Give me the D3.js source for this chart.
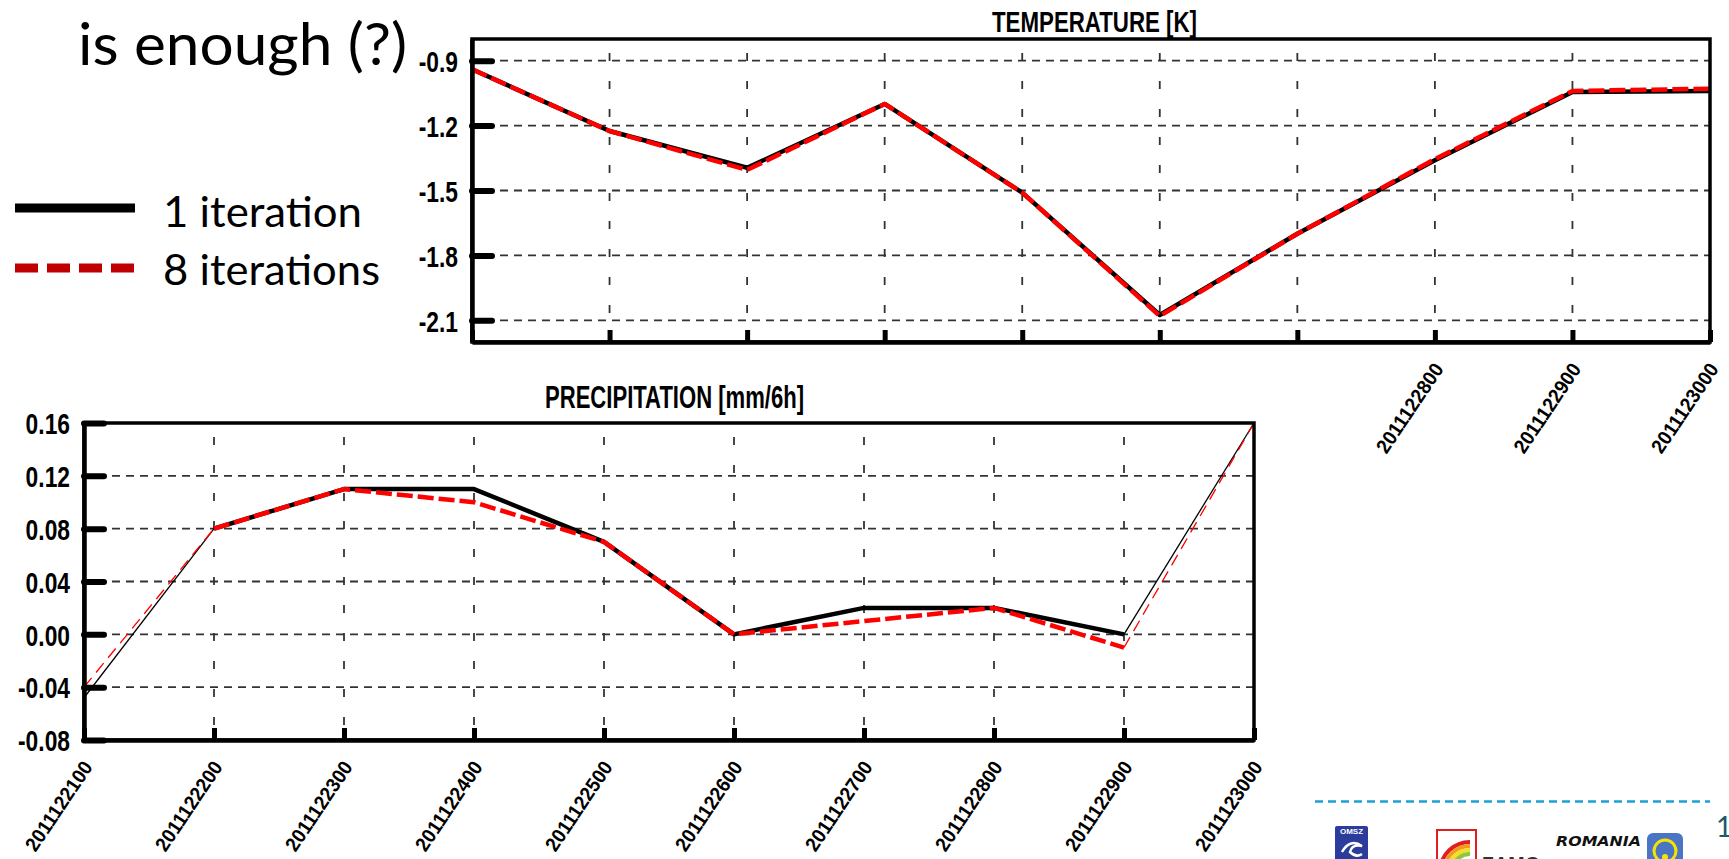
<!DOCTYPE html>
<html><head><meta charset="utf-8">
<script src="https://cdn.jsdelivr.net/npm/d3@7"></script>
<style>
html,body{margin:0;padding:0;background:#fff;overflow:hidden;}
svg{display:block;}
</style></head><body>
<svg id="chart" width="1729" height="859"></svg>
<script>
// ---------------- data ----------------
const times = ["2011122100","2011122200","2011122300","2011122400","2011122500",
               "2011122600","2011122700","2011122800","2011122900","2011123000"];
const seriesNames = ["1 iteration", "8 iterations"];
const tempOneIter   = [-0.94, -1.225, -1.395, -1.10, -1.51, -2.075, -1.70, -1.36, -1.045, -1.04];
const tempEightIter = [-0.94, -1.225, -1.405, -1.10, -1.51, -2.08,  -1.70, -1.355, -1.04, -1.03];
const precipOneIter   = [-0.048, 0.08, 0.11, 0.11, 0.07, 0.00, 0.02, 0.02, 0.00, 0.16];
const precipEightIter = [-0.04,  0.08, 0.11, 0.10, 0.07, 0.00, 0.01, 0.02, -0.01, 0.16];
const tempTicks   = [-0.9, -1.2, -1.5, -1.8, -2.1];
const tempDomain  = [-2.2, -0.8];
const precipTicks = [0.16, 0.12, 0.08, 0.04, 0.00, -0.04, -0.08];
const precipDomain = [-0.08, 0.16];
const tempTitle = "TEMPERATURE [K]";
const precipTitle = "PRECIPITATION [mm/6h]";
const slideTitle = "is enough (?)";

// ---------------- layout ----------------
const svg = d3.select("#chart");
const FONT = "'Liberation Sans', Arial, Helvetica, sans-serif";
const SLIDE_FONT = "Lato, 'Open Sans', sans-serif";
const TEMP = {left: 472, right: 1710, top: 39, bottom: 342};
const PREC = {left: 84, right: 1254, top: 423, bottom: 740};

function condense(sel, f) {
  sel.each(function () {
    const w = this.getComputedTextLength();
    d3.select(this).attr("textLength", w * f).attr("lengthAdjust", "spacingAndGlyphs");
  });
}

function panel(box, yDomain, yTicks, fmt, s1, s2, showLabel) {
  const g = svg.append("g");
  const x = d3.scalePoint().domain(times).range([box.left, box.right]);
  const y = d3.scaleLinear().domain(yDomain).range([box.bottom, box.top]);
  const step = x.step();
  const eps = 1e-9;

  // horizontal grid
  g.append("g").selectAll("line")
    .data(yTicks.filter(t => t > yDomain[0] + eps && t < yDomain[1] - eps))
    .join("line")
    .attr("x1", box.left).attr("x2", box.right)
    .attr("y1", d => y(d)).attr("y2", d => y(d))
    .attr("stroke", "#333").attr("stroke-width", 1.8)
    .attr("stroke-dasharray", "8,6");
  // vertical grid
  g.append("g").selectAll("line")
    .data(times.slice(1, -1))
    .join("line")
    .attr("x1", d => x(d)).attr("x2", d => x(d))
    .attr("y1", box.top).attr("y2", box.bottom)
    .attr("stroke", "#333").attr("stroke-width", 1.8)
    .attr("stroke-dasharray", "8,20").attr("stroke-dashoffset", 14);

  // series (steep segments are rendered thin, as in the original plot)
  function runs(vals) {
    const out = [];
    for (let i = 0; i < vals.length - 1; i++) {
      const steep = Math.abs(y(vals[i + 1]) - y(vals[i])) / step > 1.1;
      const last = out[out.length - 1];
      if (last && last.steep === steep) last.idx.push(i + 1);
      else out.push({steep, idx: [i, i + 1]});
    }
    return out;
  }
  const line = vals => d3.line().x(i => x(times[i])).y(i => y(vals[i]));
  runs(s1).forEach(r => {
    g.append("path").attr("d", line(s1)(r.idx))
      .attr("fill", "none").attr("stroke", "#000")
      .attr("stroke-width", r.steep ? 1.3 : 4.5)
      .attr("stroke-linejoin", "round");
  });
  runs(s2).forEach(r => {
    g.append("path").attr("d", line(s2)(r.idx))
      .attr("fill", "none").attr("stroke", "#ff0000")
      .attr("stroke-width", r.steep ? 1.3 : 4.5)
      .attr("stroke-dasharray", r.steep ? "12,7" : "16,5")
      .attr("stroke-linejoin", "round");
  });

  // frame
  g.append("rect")
    .attr("x", box.left).attr("y", box.top)
    .attr("width", box.right - box.left).attr("height", box.bottom - box.top)
    .attr("fill", "none").attr("stroke", "#000").attr("stroke-width", 3.5);

  // y axis
  const ya = g.append("g").attr("transform", `translate(${box.left},0)`)
    .call(d3.axisLeft(y).tickValues(yTicks).tickSizeInner(-20).tickSizeOuter(0)
      .tickPadding(14).tickFormat(d => fmt(d).replace("\u2212", "-")));
  ya.select(".domain").attr("stroke", "#000").attr("stroke-width", 4.5);
  ya.selectAll(".tick line").attr("stroke", "#000").attr("stroke-width", 6).attr("stroke-linecap", "round");
  ya.selectAll(".tick text").attr("fill", "#000").attr("dy", "0.36em")
    .style("font-family", FONT).style("font-weight", "bold").style("font-size", "30px");
  condense(ya.selectAll(".tick text"), 0.76);

  // x axis
  const xa = g.append("g").attr("transform", `translate(0,${box.bottom})`)
    .call(d3.axisBottom(x).tickSizeInner(-12).tickSizeOuter(0).tickFormat(d => d));
  xa.select(".domain").attr("stroke", "#000").attr("stroke-width", 4.5);
  xa.selectAll(".tick line").attr("stroke", "#000").attr("stroke-width", 5);
  xa.selectAll(".tick text")
    .attr("x", 0).attr("y", 0).attr("dy", 0)
    .attr("text-anchor", "end")
    .attr("transform", "translate(9,27) rotate(-56)")
    .attr("fill", "#000")
    .style("font-family", FONT).style("font-weight", "bold").style("font-size", "20px");
  condense(xa.selectAll(".tick text"), 0.95);
  xa.selectAll(".tick").filter(d => !showLabel(x(d))).select("text").remove();
  return g;
}

// Temperature panel (its left-hand time labels lie beneath the precipitation panel)
panel(TEMP, tempDomain, tempTicks, d3.format(".1f"), tempOneIter, tempEightIter,
      px => px > PREC.right + 80);
svg.append("text").text(tempTitle)
  .attr("x", 992).attr("y", 32)
  .attr("textLength", 205).attr("lengthAdjust", "spacingAndGlyphs")
  .style("font-family", FONT).style("font-weight", "bold").style("font-size", "29px");

// Precipitation panel
panel(PREC, precipDomain, precipTicks, d3.format(".2f"), precipOneIter, precipEightIter,
      () => true);
svg.append("text").text(precipTitle)
  .attr("x", 545).attr("y", 408)
  .attr("textLength", 259).attr("lengthAdjust", "spacingAndGlyphs")
  .style("font-family", FONT).style("font-weight", "bold").style("font-size", "31px");

// Slide title fragment
svg.append("text").text(slideTitle)
  .attr("x", 78).attr("y", 65)
  .attr("textLength", 329).attr("lengthAdjust", "spacingAndGlyphs")
  .style("font-family", SLIDE_FONT).style("font-size", "59px").attr("fill", "#000");

// Legend
const legend = svg.append("g");
const legendStyles = [
  {color: "#000", dash: null, y: 208, ty: 227, len: 199},
  {color: "#c00000", dash: "23,9", y: 268, ty: 285, len: 217}
];
seriesNames.forEach((name, i) => {
  const s = legendStyles[i];
  legend.append("line").attr("x1", 15).attr("x2", 135).attr("y1", s.y).attr("y2", s.y)
    .attr("stroke", s.color).attr("stroke-width", 9)
    .attr("stroke-dasharray", s.dash);
  legend.append("text").text(name).attr("x", 163).attr("y", s.ty)
    .attr("textLength", s.len).attr("lengthAdjust", "spacingAndGlyphs")
    .style("font-family", SLIDE_FONT).style("font-size", "42px").attr("fill", "#000");
});

// Slide footer decorations
const foot = svg.append("g");
foot.append("line").attr("x1", 1315).attr("x2", 1710).attr("y1", 801.5).attr("y2", 801.5)
  .attr("stroke", "#1ba0d8").attr("stroke-width", 2.5).attr("stroke-dasharray", "8,5");
// OMSZ logo
foot.append("rect").attr("x", 1335).attr("y", 826).attr("width", 33).attr("height", 40)
  .attr("rx", 2).attr("fill", "#2b3c9c");
foot.append("text").text("OMSZ").attr("x", 1351.5).attr("y", 834).attr("text-anchor", "middle")
  .attr("fill", "#fff").style("font-family", FONT).style("font-weight", "bold").style("font-size", "8px");
foot.append("path").attr("d", "M1342,852 q8,-14 20,-6 q-10,-2 -12,6 q6,6 12,2")
  .attr("fill", "none").attr("stroke", "#fff").attr("stroke-width", 2.5);
// ZAMG logo
foot.append("rect").attr("x", 1437).attr("y", 830).attr("width", 39).attr("height", 40)
  .attr("fill", "#fff").attr("stroke", "#e02020").attr("stroke-width", 2);
["#e02020", "#f39a1e", "#f2df2a", "#8ec63f"].forEach((c, i) => {
  foot.append("path")
    .attr("d", `M${1440 + i * 4},870 A${30 - i * 4},${30 - i * 4} 0 0 1 1470,${842 + i * 4}`)
    .attr("fill", "none").attr("stroke", c).attr("stroke-width", 4);
});
foot.append("text").text("ZAMG").attr("x", 1482).attr("y", 872)
  .attr("textLength", 58).attr("lengthAdjust", "spacingAndGlyphs")
  .attr("fill", "#333").style("font-family", FONT).style("font-weight", "bold").style("font-size", "22px");
// ROMANIA logo
foot.append("text").text("ROMANIA").attr("x", 1556).attr("y", 846)
  .attr("textLength", 85).attr("lengthAdjust", "spacingAndGlyphs")
  .attr("fill", "#111").style("font-family", "'DejaVu Sans', sans-serif")
  .style("font-weight", "bold").style("font-style", "italic").style("font-size", "14px");
foot.append("rect").attr("x", 1647).attr("y", 833).attr("width", 36).attr("height", 40)
  .attr("rx", 6).attr("fill", "#4a74c4");
foot.append("circle").attr("cx", 1665).attr("cy", 851).attr("r", 11)
  .attr("fill", "none").attr("stroke", "#f4e400").attr("stroke-width", 3);
foot.append("circle").attr("cx", 1665).attr("cy", 857).attr("r", 3).attr("fill", "#f4e400");
// page number (cut at the slide edge, as in the original)
foot.append("text").text("1").attr("x", 1716).attr("y", 837)
  .attr("fill", "#215868").style("font-family", SLIDE_FONT).style("font-size", "28px");
</script>
</body></html>
